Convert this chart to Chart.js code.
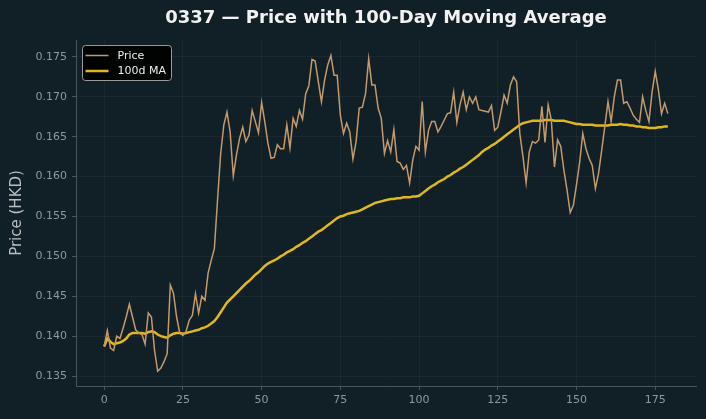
<!DOCTYPE html>
<html>
<head>
<meta charset="utf-8">
<script src="https://cdn.jsdelivr.net/npm/chart.js@4.4.1/dist/chart.umd.min.js"></script>
<style>
  html, body { margin: 0; padding: 0; background: #111f27; }
  #wrap { width: 706px; height: 419px; }
</style>
</head>
<body>
<div id="wrap"><canvas id="chart" width="706" height="419"></canvas></div>
<script>
// daily closing price (HKD)
const price = [
  0.1387, 0.1407, 0.1385, 0.1382, 0.1400, 0.1397, 0.1410, 0.1424, 0.1440, 0.1424,
  0.1408, 0.1404, 0.1402, 0.1390, 0.1429, 0.1424, 0.1382, 0.1356, 0.1360, 0.1368,
  0.1378, 0.1464, 0.1454, 0.1424, 0.1404, 0.1401, 0.1406, 0.1420, 0.1426, 0.1453,
  0.1429, 0.1450, 0.1445, 0.1479, 0.1495, 0.1510, 0.1571, 0.1629, 0.1665, 0.1681,
  0.1656, 0.1601, 0.1627, 0.1648, 0.1662, 0.1644, 0.1652, 0.1683, 0.1669, 0.1655,
  0.1693, 0.1669, 0.1642, 0.1623, 0.1624, 0.1640, 0.1635, 0.1635, 0.1665, 0.1636,
  0.1673, 0.1663, 0.1683, 0.1672, 0.1704, 0.1714, 0.1747, 0.1745, 0.1719, 0.1694,
  0.1721, 0.1740, 0.1752, 0.1727, 0.1727, 0.1677, 0.1654, 0.1667, 0.1656, 0.1622,
  0.1644, 0.1686, 0.1687, 0.1704, 0.1748, 0.1715, 0.1715, 0.1686, 0.1673, 0.1629,
  0.1645, 0.1631, 0.1659, 0.1619, 0.1617, 0.1609, 0.1614, 0.1592, 0.1621, 0.1638,
  0.1633, 0.1694, 0.1631, 0.1658, 0.1669, 0.1669, 0.1656, 0.1663, 0.1671, 0.1679,
  0.1680, 0.1706, 0.1668, 0.1690, 0.1706, 0.1684, 0.1700, 0.1692, 0.1700, 0.1684,
  0.1683, 0.1682, 0.1681, 0.1689, 0.1658, 0.1662, 0.1681, 0.1702, 0.1692, 0.1715,
  0.1725, 0.1719, 0.1654, 0.1625, 0.1592, 0.1631, 0.1644, 0.1642, 0.1646, 0.1688,
  0.1643, 0.1690, 0.1671, 0.1612, 0.1646, 0.1638, 0.1608, 0.1583, 0.1555, 0.1564,
  0.1590, 0.1618, 0.1654, 0.1635, 0.1623, 0.1614, 0.1585, 0.1604, 0.1633, 0.1663,
  0.1694, 0.1669, 0.1700, 0.1721, 0.1721, 0.1692, 0.1694, 0.1686, 0.1677, 0.1672,
  0.1668, 0.1700, 0.1683, 0.1669, 0.1706, 0.1732, 0.1709, 0.1679, 0.1692, 0.1679
];

// 100-day moving average
const ma100 = [
  0.1387, 0.1397, 0.1393, 0.1390, 0.1391, 0.1392, 0.1394, 0.1397, 0.1402, 0.1404,
  0.1404, 0.1404, 0.1404, 0.1403, 0.1405, 0.1406, 0.1405, 0.1402, 0.1400, 0.1399,
  0.1398, 0.1401, 0.1403, 0.1404, 0.1404, 0.1403, 0.1404, 0.1405, 0.1406, 0.1407,
  0.1408, 0.1410, 0.1411, 0.1413, 0.1416, 0.1419, 0.1424, 0.1430, 0.1436, 0.1442,
  0.1446, 0.1450, 0.1454, 0.1458, 0.1462, 0.1466, 0.1469, 0.1473, 0.1477, 0.1480,
  0.1484, 0.1488, 0.1491, 0.1493, 0.1495, 0.1497, 0.1500, 0.1502, 0.1505, 0.1507,
  0.1509, 0.1512, 0.1514, 0.1517, 0.1519, 0.1522, 0.1525, 0.1528, 0.1531, 0.1533,
  0.1536, 0.1539, 0.1542, 0.1545, 0.1548, 0.1550, 0.1551, 0.1553, 0.1554, 0.1555,
  0.1556, 0.1557, 0.1559, 0.1561, 0.1563, 0.1565, 0.1567, 0.1568, 0.1569, 0.1570,
  0.1571, 0.1572, 0.1572, 0.1573, 0.1573, 0.1574, 0.1574, 0.1574, 0.1575, 0.1575,
  0.1576, 0.1579, 0.1582, 0.1585, 0.1588, 0.1590, 0.1593, 0.1595, 0.1597, 0.1600,
  0.1602, 0.1605, 0.1607, 0.1610, 0.1612, 0.1615, 0.1618, 0.1621, 0.1624, 0.1627,
  0.1631, 0.1634, 0.1636, 0.1639, 0.1641, 0.1644, 0.1647, 0.1650, 0.1653, 0.1656,
  0.1659, 0.1662, 0.1665, 0.1667, 0.1668, 0.1669, 0.1670, 0.1670, 0.1670, 0.1670,
  0.1671, 0.1671, 0.1671, 0.1670, 0.1670, 0.1670, 0.1670, 0.1669, 0.1668, 0.1667,
  0.1666, 0.1666, 0.1665, 0.1665, 0.1665, 0.1665, 0.1664, 0.1664, 0.1664, 0.1664,
  0.1664, 0.1665, 0.1665, 0.1665, 0.1666, 0.1665, 0.1665, 0.1664, 0.1664, 0.1663,
  0.1663, 0.1662, 0.1662, 0.1661, 0.1661, 0.1661, 0.1662, 0.1662, 0.1663, 0.1663
];

const xTicks = [0, 25, 50, 75, 100, 125, 150, 175];
const yTicks = [0.135, 0.140, 0.145, 0.150, 0.155, 0.160, 0.165, 0.170, 0.175];

const days = price.map((_, i) => i);

const BG = '#111f27';
const FONT = '"DejaVu Sans", sans-serif';
const GRID = 'rgba(255,255,255,0.045)';
const AXIS = '#4a555b';
const TICK_TXT = '#8e989d';

// fondo oscuro + título + leyenda estilo matplotlib
const decor = {
  id: 'decor',
  beforeDraw(chart) {
    const c = chart.ctx;
    c.save();
    c.fillStyle = BG;
    c.fillRect(0, 0, chart.width, chart.height);
    c.restore();
  },
  afterDraw(chart) {
    const c = chart.ctx;
    const a = chart.chartArea;
    c.save();
    c.fillStyle = '#f2f2f2';
    c.font = 'bold 18px ' + FONT;
    c.textAlign = 'center';
    c.textBaseline = 'middle';
    c.fillText('0337 \u2014 Price with 100-Day Moving Average', (a.left + a.right) / 2, 18);

    // legend box
    const bx = a.left + 6.5, by = a.top + 5.5, bw = 89, bh = 35;
    c.fillStyle = 'rgba(0,0,0,0.9)';
    c.strokeStyle = '#9a9a9a';
    c.lineWidth = 1;
    c.beginPath();
    c.roundRect(bx, by, bw, bh, 3);
    c.fill();
    c.stroke();
    c.font = '11px ' + FONT;
    c.textAlign = 'left';
    chart.data.datasets.forEach((ds, k) => {
      const ly = by + 10 + k * 15.5;
      c.strokeStyle = ds.borderColor;
      c.lineWidth = ds.borderWidth;
      c.beginPath();
      c.moveTo(bx + 3, ly);
      c.lineTo(bx + 26, ly);
      c.stroke();
      c.fillStyle = '#ececec';
      c.fillText(ds.label, bx + 35, ly + 0.5);
    });
    c.restore();
  }
};

new Chart(document.getElementById('chart'), {
  type: 'line',
  data: {
    datasets: [
      {
        label: 'Price',
        data: days.map((d, i) => ({ x: d, y: price[i] })),
        borderColor: '#c49a6c',
        borderWidth: 1.5,
        pointRadius: 0,
        tension: 0
      },
      {
        label: '100d MA',
        data: days.map((d, i) => ({ x: d, y: ma100[i] })),
        borderColor: '#e0b81c',
        borderWidth: 2.5,
        pointRadius: 0,
        tension: 0
      }
    ]
  },
  options: {
    responsive: false,
    animation: false,
    layout: { padding: { top: 40, right: 10, left: 8, bottom: 0 } },
    plugins: {
      legend: { display: false },
      title: { display: false },
      tooltip: { enabled: false }
    },
    scales: {
      x: {
        type: 'linear',
        min: -8.95,
        max: 187.95,
        afterBuildTicks: s => { s.ticks = xTicks.map(v => ({ value: v })); },
        afterFit: s => { s.height = 33; },
        grid: { color: GRID, tickColor: AXIS, tickLength: 4 },
        border: { color: AXIS, width: 1 },
        ticks: { color: TICK_TXT, font: { family: FONT, size: 11 }, padding: 4, maxRotation: 0 }
      },
      y: {
        min: 0.13375,
        max: 0.17713,
        afterBuildTicks: s => { s.ticks = yTicks.map(v => ({ value: v })); },
        afterFit: s => { s.width = 68; },
        grid: { color: GRID, tickColor: AXIS, tickLength: 4 },
        border: { color: AXIS, width: 1 },
        title: { display: true, text: 'Price (HKD)', color: '#b8bec1', font: { family: FONT, size: 15 }, padding: { top: 0, bottom: 4 } },
        ticks: {
          color: TICK_TXT,
          font: { family: FONT, size: 11 },
          padding: 5,
          callback: v => v.toFixed(3)
        }
      }
    }
  },
  plugins: [decor]
});
</script>
</body>
</html>
